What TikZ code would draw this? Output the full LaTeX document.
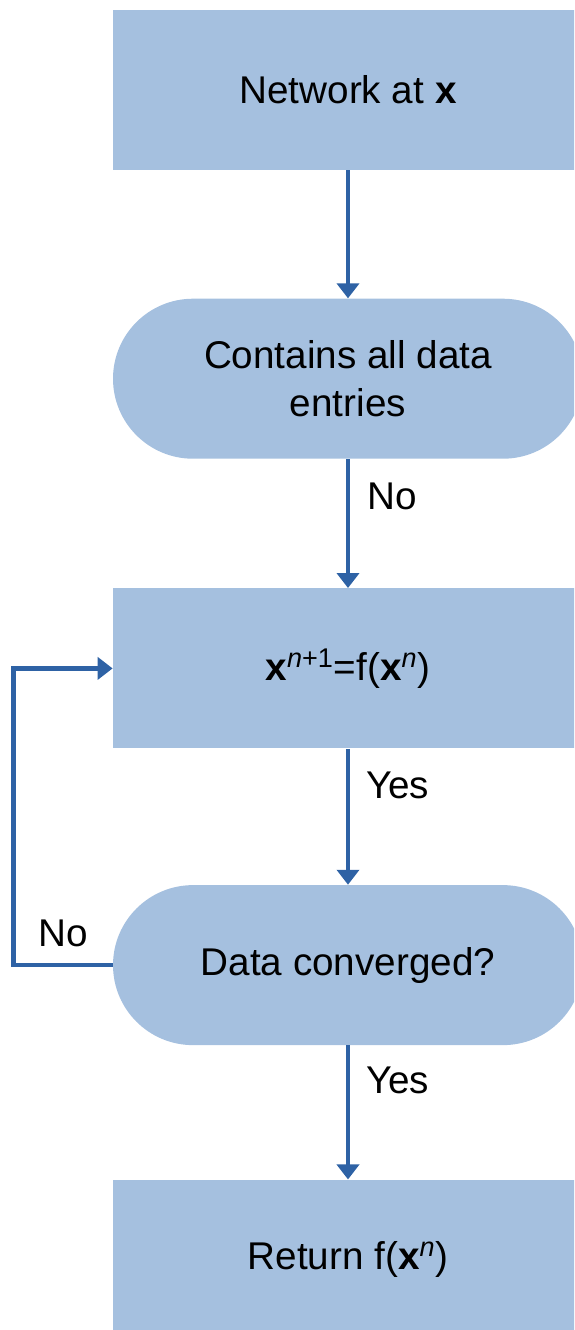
\documentclass[tikz,border=0pt]{standalone}
\usepackage{fontspec}
\setmainfont{Liberation Sans}
\usepackage{tikz}
\usetikzlibrary{positioning,arrows.meta}
\definecolor{boxblue}{RGB}{165,192,223}
\definecolor{lineblue}{RGB}{46,98,165}
\tikzset{
  blk/.style={fill=boxblue, draw=none, align=center, minimum width=9.4cm, minimum height=3.2cm, font=\fontsize{22}{27}\selectfont},
  pill/.style={blk, rounded corners=1.6cm},
  arr/.style={-{Triangle[width=0.44cm,length=0.3cm]}, line width=0.09cm, draw=lineblue},
  lbl/.style={font=\fontsize{22}{27}\selectfont, text=black},
}
\begin{document}
\begin{tikzpicture}
    \useasboundingbox (0,0) rectangle (11.48,-26.6);
    \clip (0,0) rectangle (11.48,-26.6);
    \node[blk] (net) at (6.96,-1.8) {Network at \textbf{x}};
    \node[pill, below=2.56cm of net] (cont) {Contains all data\\entries};
    \node[blk, below=2.58cm of cont] (upd) {\textbf{x}\textsuperscript{\textit{n}+1}=f(\textbf{x}\textsuperscript{\textit{n}})};
    \node[pill, below=2.72cm of upd] (conv) {Data converged?};
    \node[blk, below=2.68cm of conv] (ret) {Return f(\textbf{x}\textsuperscript{\textit{n}})};
    \draw[arr] (net) -- (cont);
    \draw[arr] (cont) -- (upd) node[lbl, pos=0.29, right=0.22cm]{No};
    \draw[arr] (upd) -- (conv) node[lbl, pos=0.27, right=0.2cm]{Yes};
    \draw[arr] (conv) -- (ret) node[lbl, pos=0.26, right=0.2cm]{Yes};
    \draw[arr] (conv.west) -- ++(-1.98,0) node[lbl, midway, above=0.2cm]{No} |- (upd.west);
  \end{tikzpicture}
\end{document}
